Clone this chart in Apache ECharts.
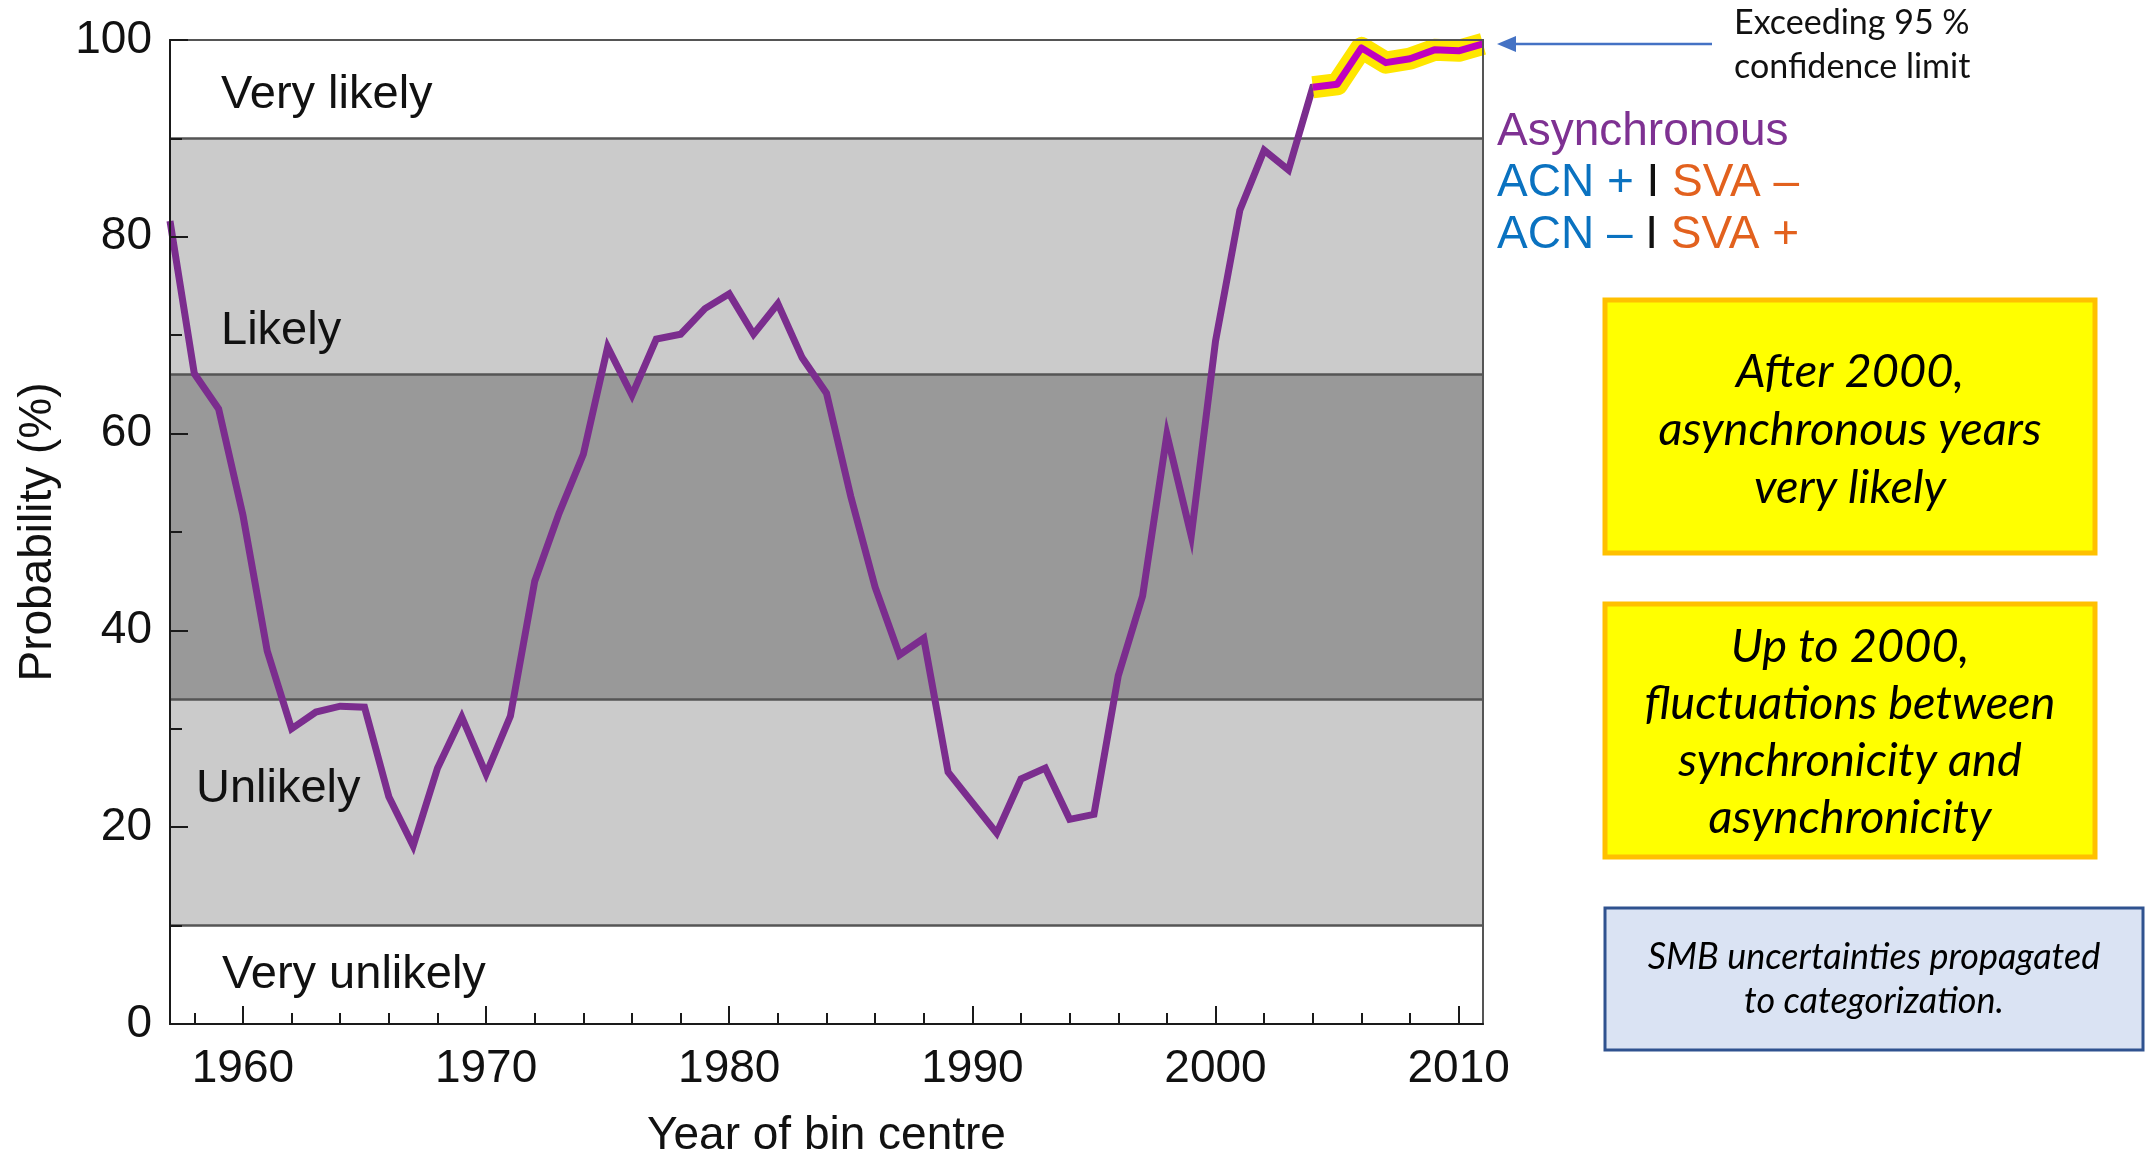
<!DOCTYPE html>
<html>
<head>
<meta charset="utf-8">
<script src="https://cdn.jsdelivr.net/npm/echarts@6/dist/echarts.min.js"></script>
<style>
  html, body { margin: 0; padding: 0; background: #ffffff; }
  #chart { width: 2151px; height: 1154px; }
</style>
</head>
<body>
<div id="chart"></div>
<script>
// Year of bin centre
const years = [
  1957, 1958, 1959, 1960, 1961, 1962, 1963, 1964, 1965, 1966,
  1967, 1968, 1969, 1970, 1971, 1972, 1973, 1974, 1975, 1976,
  1977, 1978, 1979, 1980, 1981, 1982, 1983, 1984, 1985, 1986,
  1987, 1988, 1989, 1990, 1991, 1992, 1993, 1994, 1995, 1996,
  1997, 1998, 1999, 2000, 2001, 2002, 2003, 2004, 2005, 2006,
  2007, 2008, 2009, 2010, 2011
];

// Probability (%) of an asynchronous year
const probability = [
  81.6, 66.1, 62.5, 51.7, 37.9, 30.0, 31.7, 32.3, 32.2, 23.1,
  18.1, 26.0, 31.2, 25.4, 31.3, 45.0, 51.9, 57.9, 68.8, 63.9,
  69.6, 70.1, 72.7, 74.2, 70.1, 73.2, 67.7, 64.1, 53.6, 44.4,
  37.5, 39.2, 25.6, 22.5, 19.4, 24.9, 26.0, 20.8, 21.3, 35.4,
  43.5, 59.9, 49.6, 69.4, 82.7, 88.8, 86.8, 95.2, 95.5, 99.2,
  97.7, 98.1, 99.0, 98.9, 99.6
];

// First year above the 95 % confidence limit
const highlightFrom = 2004;

// Axis ticks
const xMajorTicks = [1960, 1970, 1980, 1990, 2000, 2010];
const xMinorTicks = [1958, 1962, 1964, 1966, 1968, 1972, 1974, 1976, 1978,
  1982, 1984, 1986, 1988, 1992, 1994, 1996, 1998, 2002, 2004, 2006, 2008];

// Likelihood category edges (%) and names
const bandEdges = [0, 10, 33, 66, 90, 100];
const bandNames = ['Very unlikely', 'Unlikely', 'Likely', 'Very likely'];

// Side texts
const legendLines = ['Asynchronous', 'ACN +', 'SVA –', 'ACN –', 'SVA +'];
const confidenceNote = 'Exceeding 95 %\nconfidence limit';
const noteAfter = 'After 2000,\nasynchronous years\nvery likely';
const noteBefore = 'Up to 2000,\nfluctuations between\nsynchronicity and\nasynchronicity';
const noteSmb = 'SMB uncertainties propagated\nto categorization.';

const points = years.map((y, i) => [y, probability[i]]);
const highlightPoints = points.filter(p => p[0] >= highlightFrom);

const LIGHT = '#cbcbcb', DARK = '#999999';
const AXIS_FONT = '"Liberation Sans", Arial, Helvetica, sans-serif';
const NOTE_FONT = 'Lato, "Open Sans", sans-serif';
const tickStyle = { color: '#1a1a1a', width: 2 };

const keyRich = {
  b: { font: '46px ' + AXIS_FONT, fill: '#0a72c0' },
  k: { font: '46px ' + AXIS_FONT, fill: '#111' },
  o: { font: '46px ' + AXIS_FONT, fill: '#e2611e' }
};

const chart = echarts.init(document.getElementById('chart'));

chart.setOption({
  animation: false,
  backgroundColor: '#ffffff',
  grid: {
    left: 170, right: 668, top: 40, bottom: 130,
    outerBoundsMode: 'none', containLabel: false,
    show: true, borderColor: '#555555', borderWidth: 2,
    backgroundColor: 'transparent', z: 10
  },
  xAxis: [{
    type: 'value', min: 1957, max: 2011, z: 10,
    axisLine: { show: true, lineStyle: { color: '#1a1a1a', width: 2 } },
    axisTick: { show: true, inside: true, length: 18, customValues: xMajorTicks, lineStyle: tickStyle },
    axisLabel: {
      customValues: xMajorTicks, fontSize: 46, color: '#111', fontFamily: AXIS_FONT, margin: 22,
      formatter: v => String(v)
    },
    splitLine: { show: false },
    name: 'Year of bin centre', nameLocation: 'middle', nameGap: 89,
    nameTextStyle: { fontSize: 46, color: '#111', fontFamily: AXIS_FONT }
  }, {
    type: 'value', min: 1957, max: 2011, position: 'bottom', z: 10,
    axisLine: { show: false },
    axisTick: { show: true, inside: true, length: 11, customValues: xMinorTicks, lineStyle: tickStyle },
    axisLabel: { show: false },
    splitLine: { show: false }
  }],
  yAxis: {
    type: 'value', min: 0, max: 100, interval: 20, z: 10,
    axisLine: { show: true, lineStyle: { color: '#1a1a1a', width: 2 } },
    axisTick: { show: true, inside: true, length: 18, lineStyle: tickStyle },
    minorTick: { show: true, splitNumber: 2, length: 12, lineStyle: tickStyle },
    axisLabel: { fontSize: 46, color: '#111', fontFamily: AXIS_FONT, margin: 18 },
    splitLine: { show: false },
    name: 'Probability (%)', nameLocation: 'middle', nameGap: 109,
    nameTextStyle: { fontSize: 46, color: '#111', fontFamily: AXIS_FONT }
  },
  series: [{
    name: 'Asynchronous',
    type: 'line',
    data: points,
    showSymbol: false,
    symbol: 'none',
    z: 3,
    lineStyle: { color: '#7b2d8e', width: 7, join: 'miter' },
    markArea: {
      silent: true,
      data: [
        [{ yAxis: bandEdges[1], itemStyle: { color: LIGHT } }, { yAxis: bandEdges[2] }],
        [{ yAxis: bandEdges[2], itemStyle: { color: DARK } }, { yAxis: bandEdges[3] }],
        [{ yAxis: bandEdges[3], itemStyle: { color: LIGHT } }, { yAxis: bandEdges[4] }]
      ]
    },
    markLine: {
      silent: true, symbol: 'none', z: 2,
      label: { show: false },
      lineStyle: { color: '#555555', width: 2.5, type: 'solid' },
      data: bandEdges.slice(1, 5).map(v => ({ yAxis: v }))
    }
  }, {
    name: 'confidence glow',
    type: 'line',
    data: highlightPoints,
    symbol: 'none',
    z: 4,
    lineStyle: { color: '#ffe600', width: 22, join: 'round', cap: 'butt' }
  }, {
    name: 'above limit',
    type: 'line',
    data: highlightPoints,
    symbol: 'none',
    z: 5,
    lineStyle: { color: '#c000c0', width: 7, join: 'round' }
  }],
  graphic: [
    // category names inside the bands
    { type: 'text', x: 221, y: 95, z: 20, style: { text: bandNames[3], font: '47px ' + AXIS_FONT, fill: '#111', verticalAlign: 'middle' } },
    { type: 'text', x: 221, y: 331, z: 20, style: { text: bandNames[2], font: '47px ' + AXIS_FONT, fill: '#111', verticalAlign: 'middle' } },
    { type: 'text', x: 196, y: 789, z: 20, style: { text: bandNames[1], font: '47px ' + AXIS_FONT, fill: '#111', verticalAlign: 'middle' } },
    { type: 'text', x: 222, y: 975, z: 20, style: { text: bandNames[0], font: '47px ' + AXIS_FONT, fill: '#111', verticalAlign: 'middle' } },

    // arrow to the end of the curve
    { type: 'line', z: 20, shape: { x1: 1712, y1: 44, x2: 1510, y2: 44 }, style: { stroke: '#4472c4', lineWidth: 2.5 } },
    { type: 'polygon', z: 20, shape: { points: [[1497, 44], [1516, 36], [1516, 52]] }, style: { fill: '#4472c4' } },
    { type: 'text', x: 1734, y: 45, z: 20, style: { text: confidenceNote, font: '34px ' + NOTE_FONT, fill: '#111', lineHeight: 44, verticalAlign: 'middle' } },

    // colour key
    { type: 'text', x: 1497, y: 132, z: 20, style: { text: legendLines[0], font: '46px ' + AXIS_FONT, fill: '#7e3192', verticalAlign: 'middle' } },
    { type: 'text', x: 1497, y: 183, z: 20, style: {
        text: '{b|' + legendLines[1] + ' }{k|I}{o| ' + legendLines[2] + '}',
        verticalAlign: 'middle', rich: keyRich } },
    { type: 'text', x: 1497, y: 235, z: 20, style: {
        text: '{b|' + legendLines[3] + ' }{k|I}{o| ' + legendLines[4] + '}',
        verticalAlign: 'middle', rich: keyRich } },

    // yellow notes
    { type: 'rect', z: 20, shape: { x: 1605, y: 300, width: 490, height: 253 }, style: { fill: '#ffff00', stroke: '#ffc000', lineWidth: 5 } },
    { type: 'text', x: 1850, y: 430, z: 21, style: { text: noteAfter, font: 'italic 47px ' + NOTE_FONT, fill: '#000', lineHeight: 58, align: 'center', verticalAlign: 'middle' } },
    { type: 'rect', z: 20, shape: { x: 1605, y: 604, width: 490, height: 253 }, style: { fill: '#ffff00', stroke: '#ffc000', lineWidth: 5 } },
    { type: 'text', x: 1850, y: 732, z: 21, style: { text: noteBefore, font: 'italic 47px ' + NOTE_FONT, fill: '#000', lineHeight: 57, align: 'center', verticalAlign: 'middle' } },

    // blue note
    { type: 'rect', z: 20, shape: { x: 1605, y: 908, width: 538, height: 142 }, style: { fill: '#dae3f3', stroke: '#2f528f', lineWidth: 3 } },
    { type: 'text', x: 1874, y: 979, z: 21, style: { text: noteSmb, font: 'italic 36px ' + NOTE_FONT, fill: '#000', lineHeight: 44, align: 'center', verticalAlign: 'middle' } }
  ]
});
</script>
</body>
</html>
